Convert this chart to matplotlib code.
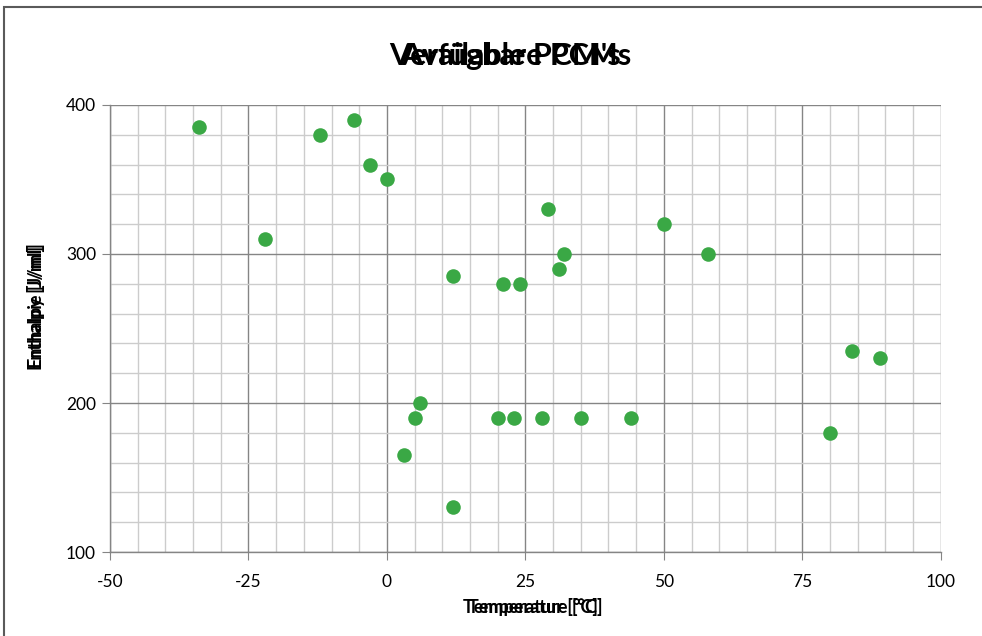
import matplotlib.pyplot as plt
from matplotlib.ticker import MultipleLocator
from matplotlib.patches import Rectangle

temperature = [-34, -22, -12, -6, -3, 0, 12, 3, 5, 6, 12, 20, 21, 23, 24, 28,
               29, 31, 32, 35, 44, 50, 58, 80, 84, 89]
enthalpy = [385, 310, 380, 390, 360, 350, 285, 165, 190, 200, 130, 190, 280,
            190, 280, 190, 330, 290, 300, 190, 190, 320, 300, 180, 235, 230]

titles = ["Verfügbare PCMs", "Available PCM's"]
xlabels = ["Temperatur [°C]", "Temperature [°C]"]
ylabels = ["Enthalpie [J/ml]", "Enthalpy [J/ml]"]

plt.rcParams['font.family'] = ['Lato', 'DejaVu Sans']
plt.rcParams['axes.unicode_minus'] = False

fig = plt.figure(figsize=(9.82, 6.36), dpi=100)
ax = fig.add_axes([0.112, 0.132, 0.846, 0.703])

ax.scatter(temperature, enthalpy, s=110, color="#3aa845", zorder=3,
           linewidths=0)

ax.set_xlim(-50, 100)
ax.set_ylim(100, 400)
ax.xaxis.set_major_locator(MultipleLocator(25))
ax.xaxis.set_minor_locator(MultipleLocator(5))
ax.yaxis.set_major_locator(MultipleLocator(100))
ax.yaxis.set_minor_locator(MultipleLocator(20))

ax.grid(which="major", color="#858585", linewidth=1.0, zorder=1)
ax.grid(which="minor", color="#cccccc", linewidth=1.0, zorder=0)
ax.set_axisbelow(True)

for side in ["top", "right"]:
    ax.spines[side].set_visible(False)
for side in ["bottom", "left"]:
    ax.spines[side].set_color("#858585")
    ax.spines[side].set_linewidth(1.0)

ax.tick_params(which="major", length=6, color="#858585", labelsize=12.5,
               labelcolor="black")
ax.tick_params(which="minor", length=0)
ax.tick_params(axis="x", pad=10)
ax.tick_params(axis="y", pad=4)

# the chart shows two languages written on top of each other
for t in titles:
    fig.text(0.52, 0.912, t, ha="center", va="center", fontsize=22,
             fontweight="bold")
for t in xlabels:
    fig.text(0.543, 0.045, t, ha="center", va="center", fontsize=13,
             fontweight="bold")
for t in ylabels:
    fig.text(0.037, 0.518, t, ha="center", va="center", fontsize=13,
             fontweight="bold", rotation=90)

fig.patches.append(Rectangle((0.004, -0.05), 1.1, 1.039,
                             transform=fig.transFigure, fill=False,
                             edgecolor="#5a5a5a", linewidth=1.5))

fig.savefig("out.png", dpi=100)
